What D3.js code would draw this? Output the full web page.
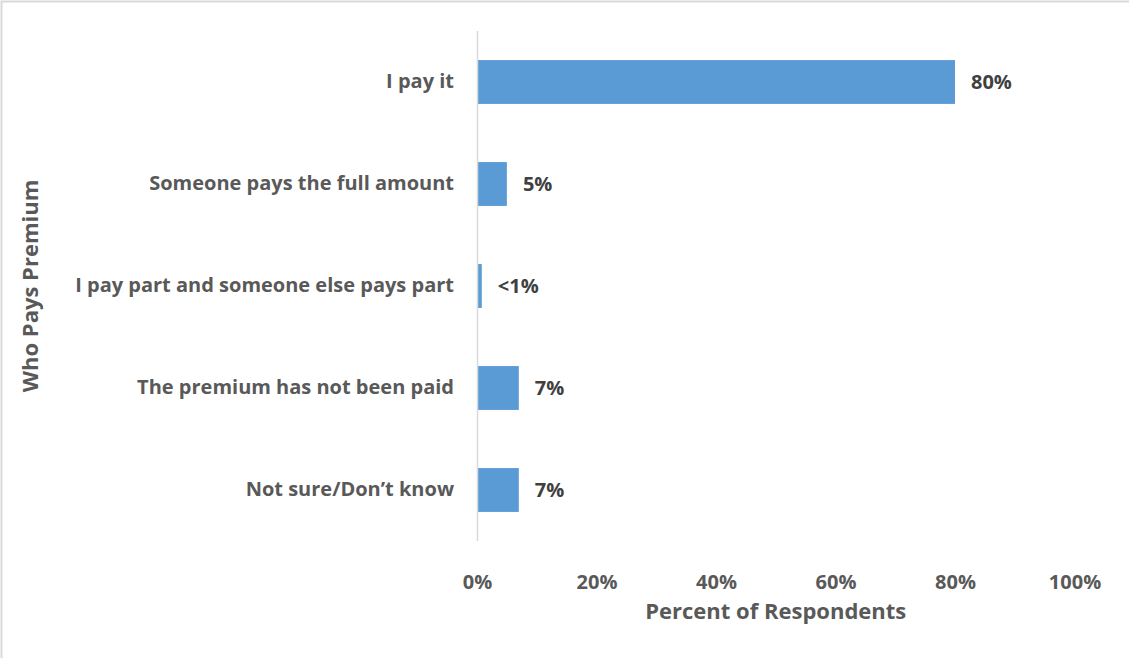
<!DOCTYPE html>
<html>
<head>
<meta charset="utf-8">
<script src="https://cdn.jsdelivr.net/npm/d3@7"></script>
<style>
  html, body { margin: 0; padding: 0; background: #fff; }
  svg { display: block; }
  text { font-family: "Open Sans", Lato, sans-serif; font-weight: 700; }
</style>
</head>
<body>
<svg id="chart" width="1129" height="658"></svg>
<script>
// Who pays the premium — share of respondents
const categories = [
  "I pay it",
  "Someone pays the full amount",
  "I pay part and someone else pays part",
  "The premium has not been paid",
  "Not sure/Don\u2019t know"
];
const values = [80, 5, 0.8, 7, 7];
const valueLabels = ["80%", "5%", "<1%", "7%", "7%"];
const tickValues = [0, 20, 40, 60, 80, 100];

const svg = d3.select("#chart");
const W = 1129, H = 658;
const margin = { top: 31, left: 477 };
const plotW = 597.5, plotH = 510;
const labelFont = "20px";
const titleFont = "22px";

// chart frame (only top/left edges fall inside the canvas)
svg.append("rect")
  .attr("x", 1.5).attr("y", 1.5)
  .attr("width", W + 10).attr("height", H + 10)
  .attr("fill", "#fff")
  .attr("stroke", "#d9d9d9")
  .attr("stroke-width", 2);

const g = svg.append("g").attr("transform", `translate(${margin.left},${margin.top})`);

const x = d3.scaleLinear().domain([0, 100]).range([0, plotW]);
const y = d3.scaleBand().domain(categories).range([0, plotH]).paddingInner(0.57).paddingOuter(0.285);

// bars
g.selectAll("rect.bar")
  .data(categories)
  .join("rect")
  .attr("class", "bar")
  .attr("x", x(0))
  .attr("y", d => y(d))
  .attr("width", (d, i) => x(values[i]) - x(0))
  .attr("height", y.bandwidth())
  .attr("fill", "#5b9bd5");

// vertical category axis line
g.append("line")
  .attr("x1", 0.5).attr("x2", 0.5)
  .attr("y1", 0).attr("y2", plotH)
  .attr("stroke", "#d9d9d9")
  .attr("stroke-width", 1.5);

// category labels
const yAxis = d3.axisLeft(y).tickSize(0).tickPadding(23);
const yg = g.append("g").call(yAxis);
yg.select(".domain").remove();
yg.selectAll("text")
  .attr("fill", "#595959")
  .style("font-size", labelFont)
  .style("font-family", "'Open Sans', Lato, sans-serif")
  .style("font-weight", 700);

// value axis tick labels
const xAxis = d3.axisBottom(x).tickValues(tickValues).tickFormat(d => d + "%").tickSize(0).tickPadding(0);
const xg = g.append("g").attr("transform", `translate(0,${plotH + 34})`).call(xAxis);
xg.select(".domain").remove();
xg.selectAll("text")
  .attr("fill", "#595959")
  .attr("dy", "0.71em")
  .style("font-size", labelFont)
  .style("font-family", "'Open Sans', Lato, sans-serif")
  .style("font-weight", 700);

// value labels
g.selectAll("text.val")
  .data(categories)
  .join("text")
  .attr("class", "val")
  .attr("x", (d, i) => x(values[i]) + 16)
  .attr("y", d => y(d) + y.bandwidth() / 2)
  .attr("dy", "0.35em")
  .attr("fill", "#404040")
  .style("font-size", labelFont)
  .text((d, i) => valueLabels[i]);

// axis titles
svg.append("text")
  .attr("x", margin.left + plotW / 2)
  .attr("y", 619)
  .attr("text-anchor", "middle")
  .attr("fill", "#595959")
  .style("font-size", titleFont)
  .text("Percent of Respondents");

svg.append("text")
  .attr("transform", `translate(38,${margin.top + 255}) rotate(-90)`)
  .attr("text-anchor", "middle")
  .attr("fill", "#595959")
  .style("font-size", titleFont)
  .text("Who Pays Premium");
</script>
</body>
</html>
